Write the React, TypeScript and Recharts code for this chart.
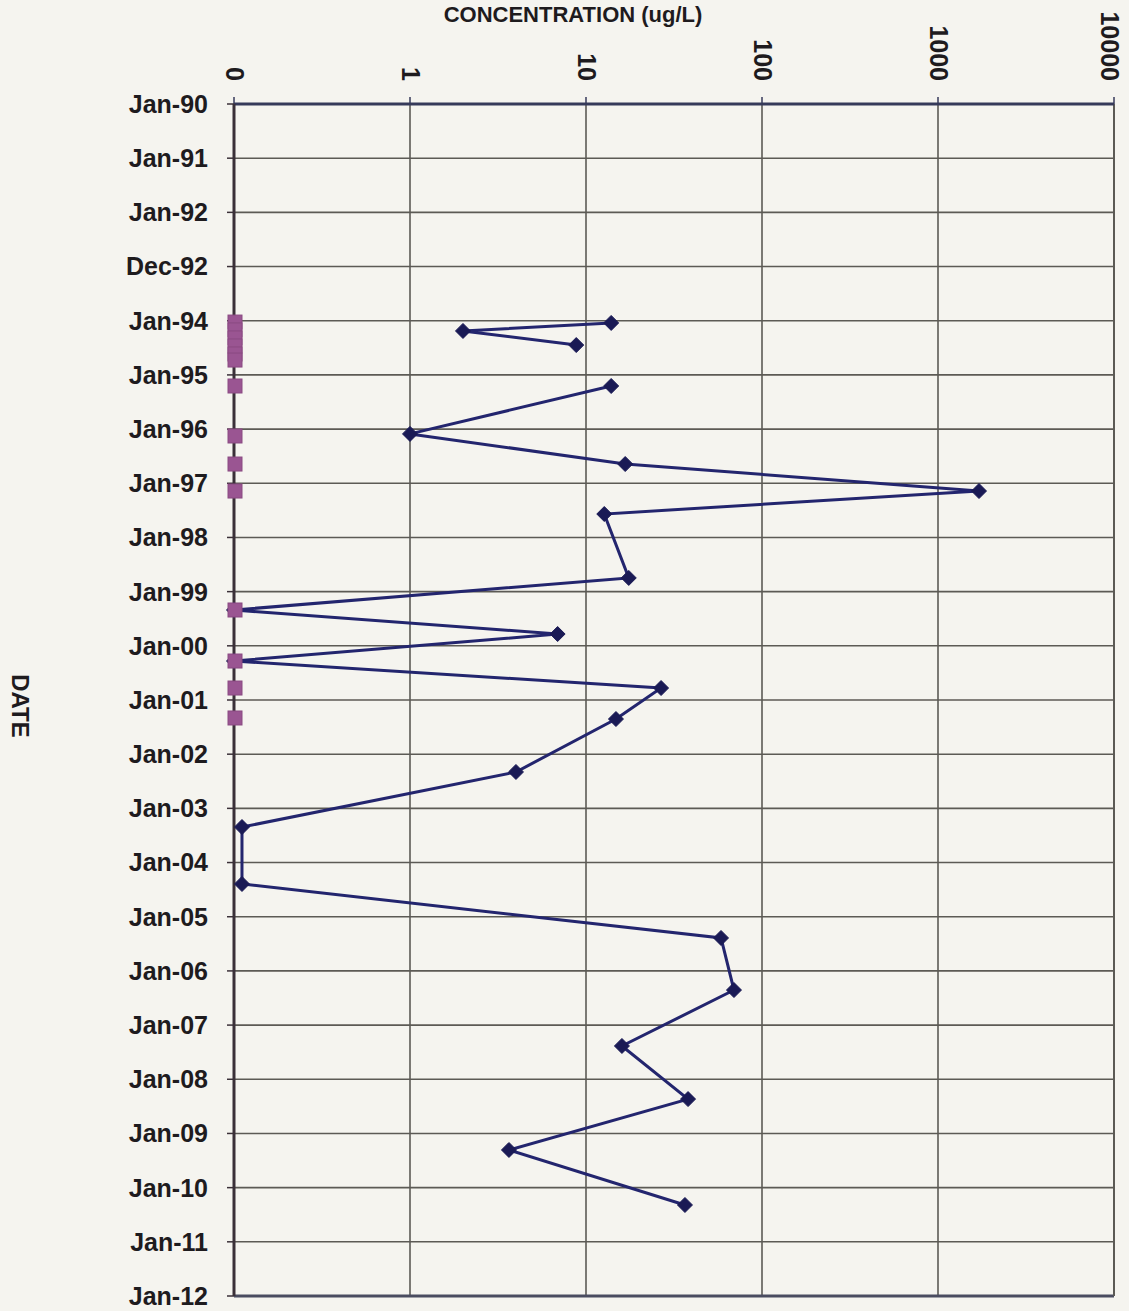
import React from 'react'
import {
  ScatterChart, Scatter, XAxis, YAxis, CartesianGrid, ReferenceLine,
} from 'recharts'

// ── Data ──────────────────────────────────────────────────────────────────────

const concTicks = [0.1, 1, 10, 100, 1000, 10000]
const concTickLabels = ['0', '1', '10', '100', '1000', '10000']

const dateTickLabels = [
  'Jan-90', 'Jan-91', 'Jan-92', 'Dec-92', 'Jan-94', 'Jan-95', 'Jan-96', 'Jan-97',
  'Jan-98', 'Jan-99', 'Jan-00', 'Jan-01', 'Jan-02', 'Jan-03', 'Jan-04', 'Jan-05',
  'Jan-06', 'Jan-07', 'Jan-08', 'Jan-09', 'Jan-10', 'Jan-11', 'Jan-12',
]

// detected results, first run (1994)
const detectDatesA = ['1994-01-16', '1994-03-11', '1994-06-14']
const detectValuesA = [13.9, 2.0, 8.8]

// detected results, second run
const detectDatesB = [
  '1995-03-17', '1996-02-03', '1996-08-24', '1997-02-22', '1997-07-27', '1998-10-01',
  '1999-05-05', '1999-10-14', '2000-04-13', '2000-10-12', '2001-05-09', '2002-05-01',
  '2003-05-07', '2004-05-25', '2005-05-24', '2006-05-10', '2007-05-22', '2008-05-14',
  '2009-04-22', '2010-04-28',
]
const detectValuesB = [
  13.9, 1.0, 16.7, 1710, 12.7, 17.5,
  0.1, 6.9, 0.1, 26.7, 14.8, 4.0,
  0.111, 0.111, 58.5, 69.3, 16.0, 38.0,
  3.65, 36.5,
]

// non-detects, plotted at the axis
const nonDetectDates = [
  '1994-01-10', '1994-03-04', '1994-04-27', '1994-06-20', '1994-08-13', '1994-09-23',
  '1995-03-17', '1996-02-17', '1996-08-24', '1997-02-22', '1999-05-05', '2000-04-13',
  '2000-10-12', '2001-05-02',
]
const nonDetectValue = 0.1

// ── Helpers ───────────────────────────────────────────────────────────────────

const DAY0 = Date.UTC(1990, 0, 1)
const TICK_STEP = 365.25

function toDay(iso: string) {
  const [y, m, d] = iso.split('-').map(Number)
  return (Date.UTC(y, m - 1, d) - DAY0) / 86400000
}

const rows = (dates: string[], values: number[]) =>
  dates.map((d, i) => ({ day: toDay(d), conc: values[i] }))

const seriesA = rows(detectDatesA, detectValuesA)
const seriesB = rows(detectDatesB, detectValuesB)
const nonDetects = rows(nonDetectDates, nonDetectDates.map(() => nonDetectValue))

const dateTicks = dateTickLabels.map((_, i) => i * TICK_STEP)
const DATE_MAX = dateTicks[dateTicks.length - 1]

const FONT = '"Liberation Sans", Arial, sans-serif'
const INK = '#1e1b1e'
const NAVY = '#23256e'

function Diamond({ cx, cy }: { cx?: number; cy?: number }) {
  if (cx == null || cy == null) return null
  const r = 7.5
  return (
    <path d={`M${cx},${cy - r}L${cx + r},${cy}L${cx},${cy + r}L${cx - r},${cy}Z`}
      fill="#1a1a55" stroke="#1a1a55" strokeWidth={1} />
  )
}

function Square({ cx, cy }: { cx?: number; cy?: number }) {
  if (cx == null || cy == null) return null
  return <rect x={cx - 6} y={cy - 7} width={14} height={14} fill="#9a5592" stroke="#8a4a82" strokeWidth={1} />
}

function TopTick({ x, y, payload }: any) {
  const i = concTicks.indexOf(payload.value)
  return (
    <text x={x} y={y - 14} transform={`rotate(90, ${x}, ${y - 14})`} textAnchor="end" dy={8}
      style={{ fontSize: 25, fontWeight: 700, fill: INK, fontFamily: FONT }}>
      {concTickLabels[i] ?? payload.value}
    </text>
  )
}

// ── Component ─────────────────────────────────────────────────────────────────

export default function App() {
  return (
    <div style={{ position: 'absolute', left: 0, top: 0, width: 1129, height: 1311, background: '#f5f4ef' }}>
      <ScatterChart width={1129} height={1311} margin={{ top: 44, right: 15, bottom: 15, left: 114 }}>
        <CartesianGrid stroke="#5c5a55" strokeWidth={1.6} />
        <XAxis
          type="number"
          dataKey="conc"
          orientation="top"
          scale="log"
          domain={[0.1, 10000]}
          ticks={concTicks}
          height={60}
          tickSize={7}
          tick={<TopTick />}
          axisLine={{ stroke: '#363a5a', strokeWidth: 3 }}
          tickLine={{ stroke: '#363a5a', strokeWidth: 1.5 }}
        />
        <YAxis
          type="number"
          dataKey="day"
          domain={[0, DATE_MAX]}
          reversed
          ticks={dateTicks}
          interval={0}
          width={120}
          tickSize={7}
          tickMargin={19}
          tickFormatter={(v: number) => dateTickLabels[Math.round(v / TICK_STEP)] ?? ''}
          tick={{ fontSize: 25, fontWeight: 700, fill: INK, fontFamily: FONT }}
          axisLine={{ stroke: '#3a3038', strokeWidth: 3 }}
          tickLine={{ stroke: '#3a3038', strokeWidth: 1.5 }}
        />
        <ReferenceLine y={DATE_MAX} stroke="#4a4c60" strokeWidth={3} />
        <ReferenceLine x={10000} stroke="#5c5a55" strokeWidth={2} />
        <Scatter data={seriesA} line={{ stroke: NAVY, strokeWidth: 3 }} shape={<Diamond />} isAnimationActive={false} />
        <Scatter data={seriesB} line={{ stroke: NAVY, strokeWidth: 3 }} shape={<Diamond />} isAnimationActive={false} />
        <Scatter data={nonDetects} shape={<Square />} isAnimationActive={false} />
      </ScatterChart>
      <svg width={1129} height={1311} style={{ position: 'absolute', left: 0, top: 0, pointerEvents: 'none' }}>
        <text x={573} y={22} textAnchor="middle"
          style={{ fontSize: 22, fontWeight: 700, fill: INK, fontFamily: FONT }}>
          CONCENTRATION (ug/L)
        </text>
        <text x={12} y={706} transform="rotate(90, 12, 706)" textAnchor="middle"
          style={{ fontSize: 24, fontWeight: 700, fill: INK, fontFamily: FONT }}>
          DATE
        </text>
      </svg>
    </div>
  )
}
